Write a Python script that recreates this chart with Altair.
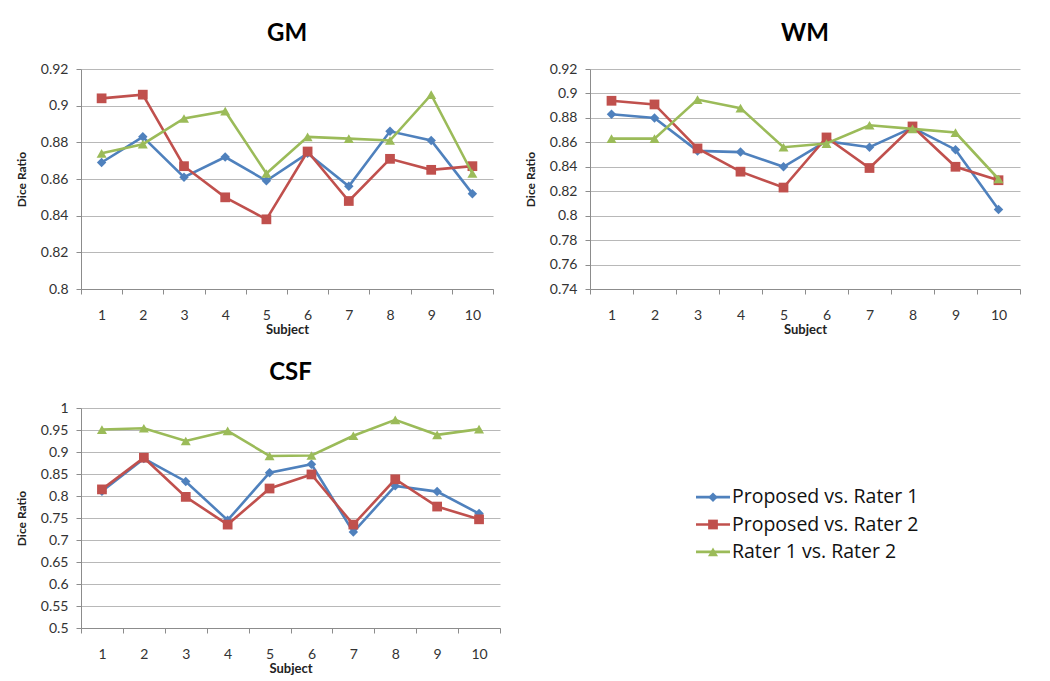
import altair as alt
import pandas as pd

subjects = [1, 2, 3, 4, 5, 6, 7, 8, 9, 10]
series_names = ["Proposed vs. Rater 1", "Proposed vs. Rater 2", "Rater 1 vs. Rater 2"]
colors = ["#4F81BD", "#C0504D", "#9BBB59"]
shapes = ["diamond", "square", "triangle-up"]
sizes = [90, 100, 95]

gm_r1 = [0.869, 0.883, 0.861, 0.872, 0.859, 0.874, 0.856, 0.886, 0.881, 0.852]
gm_r2 = [0.904, 0.906, 0.867, 0.850, 0.838, 0.875, 0.848, 0.871, 0.865, 0.867]
gm_rr = [0.874, 0.879, 0.893, 0.897, 0.863, 0.883, 0.882, 0.881, 0.906, 0.863]

wm_r1 = [0.883, 0.880, 0.853, 0.852, 0.840, 0.861, 0.856, 0.872, 0.854, 0.805]
wm_r2 = [0.894, 0.891, 0.855, 0.836, 0.823, 0.864, 0.839, 0.873, 0.840, 0.829]
wm_rr = [0.863, 0.863, 0.895, 0.888, 0.856, 0.859, 0.874, 0.871, 0.868, 0.830]

csf_r1 = [0.811, 0.885, 0.833, 0.745, 0.853, 0.872, 0.718, 0.823, 0.810, 0.760]
csf_r2 = [0.815, 0.887, 0.798, 0.735, 0.817, 0.849, 0.735, 0.838, 0.776, 0.747]
csf_rr = [0.951, 0.954, 0.925, 0.948, 0.891, 0.892, 0.937, 0.973, 0.939, 0.952]

gm_ticks = [0.8, 0.82, 0.84, 0.86, 0.88, 0.9, 0.92]
wm_ticks = [0.74, 0.76, 0.78, 0.8, 0.82, 0.84, 0.86, 0.88, 0.9, 0.92]
csf_ticks = [0.5, 0.55, 0.6, 0.65, 0.7, 0.75, 0.8, 0.85, 0.9, 0.95, 1.0]

FONT = "Lato"
color_scale = alt.Scale(domain=series_names, range=colors)
shape_scale = alt.Scale(domain=series_names, range=shapes)
size_scale = alt.Scale(domain=series_names, range=sizes)


def panel(title, series_vals, ticks, width):
    rows = []
    for k, (name, vals) in enumerate(zip(series_names, series_vals)):
        for s, v in zip(subjects, vals):
            rows.append({"Subject": s, "value": v, "series": name, "k": k})
    df = pd.DataFrame(rows)
    base = alt.Chart(df).encode(
        x=alt.X(
            "Subject:O",
            scale=alt.Scale(type="band", paddingInner=0, paddingOuter=0),
            axis=alt.Axis(
                labelAngle=0, tickBand="extent", title="Subject",
                labelFont=FONT, labelFontSize=14, labelColor="#333333",
                labelPadding=14, titleFont=FONT, titleFontSize=13,
                titleFontWeight="bold", titleColor="#222222", titlePadding=1,
                domainColor="#8C8C8C", tickColor="#8C8C8C", tickSize=5,
                grid=False,
            ),
        ),
        y=alt.Y(
            "value:Q",
            scale=alt.Scale(domain=[ticks[0], ticks[-1]], nice=False, zero=False),
            axis=alt.Axis(
                values=ticks, format=".2~f", title="Dice Ratio",
                labelFont=FONT, labelFontSize=14, labelColor="#333333",
                labelPadding=8, titleFont=FONT, titleFontSize=12,
                titleFontWeight="bold", titleColor="#222222", titlePadding=12,
                domainColor="#8C8C8C", tickColor="#8C8C8C", tickSize=5,
                grid=True, gridColor="#B8B8B8", gridWidth=1,
            ),
        ),
        color=alt.Color("series:N", scale=color_scale, legend=None),
    )
    layers = []
    for name in series_names:
        sub = base.transform_filter(alt.datum.series == name)
        layers.append(sub.mark_line(strokeWidth=2.6))
        layers.append(
            sub.mark_point(filled=True, opacity=1).encode(
                shape=alt.Shape("series:N", scale=shape_scale, legend=None),
                size=alt.Size("series:N", scale=size_scale, legend=None),
            )
        )
    return alt.layer(*layers).properties(
        width=width, height=220,
        title=alt.TitleParams(title, font=FONT, fontSize=24, fontWeight="bold",
                              color="#000000", anchor="middle", offset=16),
    )


gm = panel("GM", [gm_r1, gm_r2, gm_rr], gm_ticks, 412)
wm = panel("WM", [wm_r1, wm_r2, wm_rr], wm_ticks, 430)
csf = panel("CSF", [csf_r1, csf_r2, csf_rr], csf_ticks, 419)

LEG_SHIFT = -17
leg_df = pd.DataFrame({"series": series_names})
leg_base = alt.Chart(leg_df).encode(
    y=alt.Y("series:N", sort=series_names, axis=None,
            scale=alt.Scale(type="point", padding=0.5)),
)
leg_rule = leg_base.mark_rule(strokeWidth=2.6, yOffset=LEG_SHIFT).encode(
    x=alt.value(0), x2=alt.value(34),
    color=alt.Color("series:N", scale=color_scale, legend=None),
)
leg_pts = leg_base.mark_point(filled=True, opacity=1, yOffset=LEG_SHIFT).encode(
    x=alt.value(17),
    color=alt.Color("series:N", scale=color_scale, legend=None),
    shape=alt.Shape("series:N", scale=shape_scale, legend=None),
    size=alt.Size("series:N", scale=size_scale, legend=None),
)
leg_txt = leg_base.mark_text(align="left", baseline="middle", font="Open Sans",
                             fontSize=19.5, color="#111111", yOffset=LEG_SHIFT).encode(
    x=alt.value(36), text="series:N"
)
legend = alt.layer(leg_rule, leg_pts, leg_txt).properties(width=230, height=82)

row1 = alt.hconcat(gm, wm, spacing=30)
row2 = alt.hconcat(csf, legend, spacing=193, center=True)

chart = alt.vconcat(row1, row2, spacing=25).properties(
    padding={"left": 7, "top": 14, "right": 5, "bottom": 5},
    background="#FFFFFF",
).configure_view(stroke=None)

chart.save("out.html", embed_options={"renderer": "svg", "actions": False})
